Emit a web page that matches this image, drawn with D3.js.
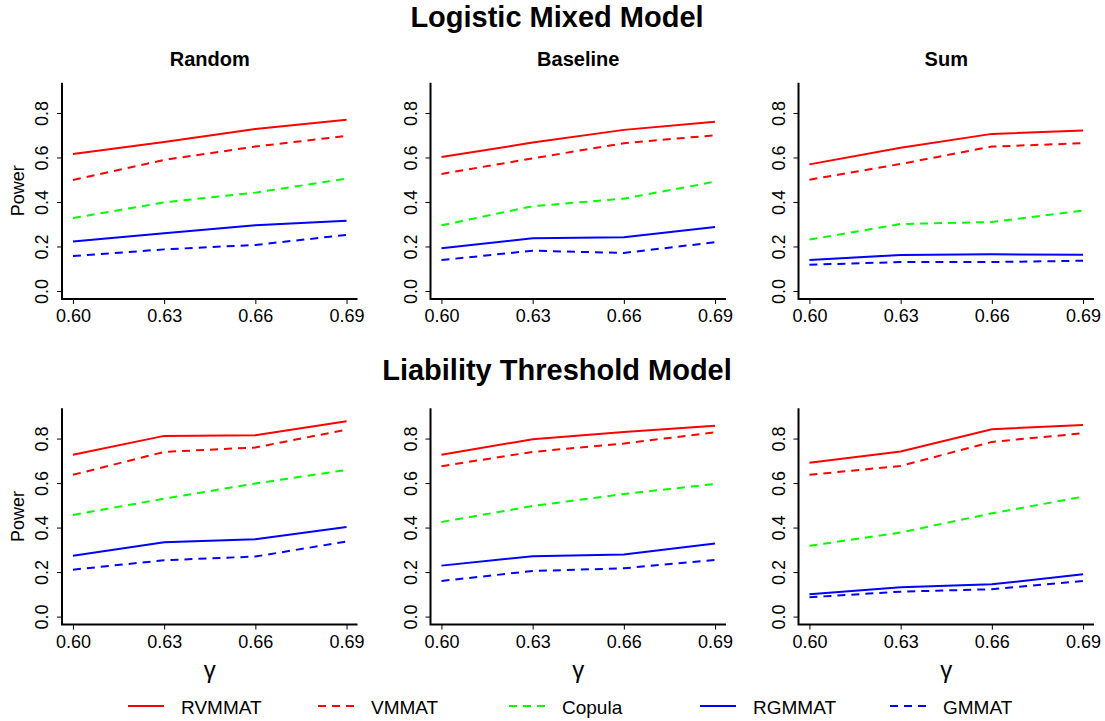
<!DOCTYPE html>
<html>
<head>
<meta charset="utf-8">
<script src="https://cdn.jsdelivr.net/npm/d3@7"></script>
<style>
  html, body { margin: 0; padding: 0; background: #fff; }
  svg { display: block; font-family: "Liberation Sans", Arial, sans-serif; }
</style>
</head>
<body>
<svg id="chart" width="1105" height="721"></svg>
<script>
// ---- data ----
const gammas = [0.60, 0.63, 0.66, 0.69];
const gammaLabels = ["0.60", "0.63", "0.66", "0.69"];
const yTicks = [0.0, 0.2, 0.4, 0.6, 0.8];
const yTickLabels = ["0.0", "0.2", "0.4", "0.6", "0.8"];
const methods = ["RVMMAT", "VMMAT", "Copula", "RGMMAT", "GMMAT"];
const models = ["Logistic Mixed Model", "Liability Threshold Model"];
const schemes = ["Random", "Baseline", "Sum"];

// series order: RVMMAT, VMMAT, Copula, RGMMAT, GMMAT
const logisticRandom = [
  [0.616, 0.670, 0.728, 0.770],
  [0.499, 0.589, 0.649, 0.697],
  [0.328, 0.398, 0.442, 0.505],
  [0.222, 0.259, 0.295, 0.316],
  [0.157, 0.187, 0.207, 0.252]
];
const logisticBaseline = [
  [0.602, 0.667, 0.724, 0.760],
  [0.526, 0.596, 0.664, 0.700],
  [0.295, 0.381, 0.415, 0.491],
  [0.192, 0.237, 0.241, 0.288],
  [0.139, 0.181, 0.171, 0.219]
];
const logisticSum = [
  [0.569, 0.644, 0.706, 0.721],
  [0.500, 0.571, 0.649, 0.664],
  [0.231, 0.301, 0.310, 0.361],
  [0.139, 0.162, 0.165, 0.163],
  [0.118, 0.130, 0.130, 0.136]
];
const liabilityRandom = [
  [0.727, 0.812, 0.815, 0.878],
  [0.637, 0.740, 0.760, 0.840],
  [0.457, 0.530, 0.598, 0.659],
  [0.273, 0.334, 0.348, 0.403],
  [0.211, 0.253, 0.270, 0.337]
];
const liabilityBaseline = [
  [0.727, 0.797, 0.830, 0.858],
  [0.676, 0.740, 0.778, 0.828],
  [0.425, 0.497, 0.551, 0.596],
  [0.229, 0.271, 0.279, 0.328],
  [0.160, 0.205, 0.217, 0.255]
];
const liabilitySum = [
  [0.691, 0.742, 0.842, 0.861],
  [0.637, 0.677, 0.785, 0.824],
  [0.318, 0.378, 0.464, 0.539],
  [0.100, 0.132, 0.145, 0.190],
  [0.087, 0.112, 0.123, 0.160]
];

// ---- styles ----
const seriesColor = ["#ff0000", "#ff0000", "#00ff00", "#0000ff", "#0000ff"];
const seriesDash = [null, "8,6", "8,6", null, "8,6"];

const panelData = [
  [logisticRandom, logisticBaseline, logisticSum],
  [liabilityRandom, liabilityBaseline, liabilitySum]
];

const svg = d3.select("#chart");

const panelLefts = [62, 430.5, 798.5];
const panelWidth = 295.5;
const rowTops = [82.7, 408.3];
const plotHeight = 216.3;
const titleY = [27, 380];

const xPad = 0.0036, yLo = -0.036, yHi = 0.936;

models.forEach((model, r) => {
  svg.append("text")
    .attr("x", 557).attr("y", titleY[r])
    .attr("text-anchor", "middle")
    .attr("font-size", 29).attr("font-weight", "bold")
    .text(model);

  schemes.forEach((scheme, c) => {
    const left = panelLefts[c], top = rowTops[r];
    const x = d3.scaleLinear().domain([gammas[0] - xPad, gammas[3] + xPad]).range([left, left + panelWidth]);
    const y = d3.scaleLinear().domain([yLo, yHi]).range([top + plotHeight, top]);
    const g = svg.append("g");

    // axes (L-shaped box)
    const xAxis = d3.axisBottom(x).tickValues(gammas).tickSize(5)
      .tickFormat((d, i) => gammaLabels[i]);
    const gx = g.append("g").attr("transform", `translate(0,${top + plotHeight})`).call(xAxis);
    gx.select(".domain").remove();
    gx.selectAll(".tick line").attr("stroke", "#000").attr("stroke-width", 1);
    gx.selectAll(".tick text").attr("font-size", 18).attr("fill", "#000")
      .attr("font-family", "Liberation Sans, Arial, sans-serif")
      .attr("dy", null).attr("y", 23);

    const yAxis = d3.axisLeft(y).tickValues(yTicks).tickSize(5)
      .tickFormat((d, i) => yTickLabels[i]);
    const gy = g.append("g").attr("transform", `translate(${left},0)`).call(yAxis);
    gy.select(".domain").remove();
    gy.selectAll(".tick line").attr("stroke", "#000").attr("stroke-width", 1);
    gy.selectAll(".tick text").attr("font-size", 18).attr("fill", "#000")
      .attr("font-family", "Liberation Sans, Arial, sans-serif")
      .attr("x", null).attr("dy", null)
      .attr("text-anchor", "middle")
      .attr("transform", "translate(-14,0) rotate(-90)");

    g.append("path")
      .attr("d", `M${left},${top}V${top + plotHeight}H${left + panelWidth}`)
      .attr("fill", "none").attr("stroke", "#000").attr("stroke-width", 2);

    // lines
    const line = d3.line().x((d, i) => x(gammas[i])).y(d => y(d));
    panelData[r][c].forEach((vals, s) => {
      g.append("path")
        .datum(vals)
        .attr("d", line)
        .attr("fill", "none")
        .attr("stroke", seriesColor[s])
        .attr("stroke-width", 2)
        .attr("stroke-dasharray", seriesDash[s]);
    });

    if (r === 0) {
      svg.append("text")
        .attr("x", left + panelWidth / 2).attr("y", 66)
        .attr("text-anchor", "middle")
        .attr("font-size", 20).attr("font-weight", "bold")
        .text(scheme);
    }
    if (r === 1) {
      svg.append("text")
        .attr("x", left + panelWidth / 2).attr("y", 678)
        .attr("text-anchor", "middle")
        .attr("font-size", 24)
        .text("γ");
    }
    if (c === 0) {
      svg.append("text")
        .attr("transform", `translate(24,${top + plotHeight / 2}) rotate(-90)`)
        .attr("text-anchor", "middle")
        .attr("font-size", 18)
        .text("Power");
    }
  });
});

// legend
const legendLineX = [128, 318, 509, 700, 890];
const legendY = 706;
methods.forEach((m, i) => {
  svg.append("line")
    .attr("x1", legendLineX[i]).attr("x2", legendLineX[i] + 36)
    .attr("y1", legendY).attr("y2", legendY)
    .attr("stroke", seriesColor[i]).attr("stroke-width", 2)
    .attr("stroke-dasharray", seriesDash[i]);
  svg.append("text")
    .attr("x", legendLineX[i] + 53).attr("y", legendY + 8)
    .attr("font-size", 19)
    .text(m);
});
</script>
</body>
</html>
